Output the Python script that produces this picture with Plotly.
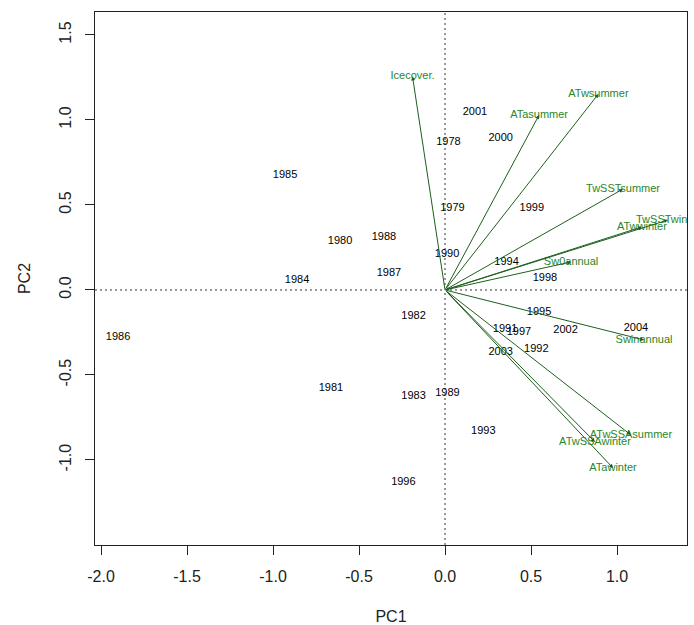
import plotly.graph_objects as go

# Scores (years)
years = ["2001", "1978", "2000", "1985", "1979", "1999", "1980", "1988", "1990",
         "1994", "1987", "1998", "1984", "1982", "1995", "1991", "1997", "2002",
         "2004", "2003", "1992", "1986", "1981", "1983", "1989", "1993", "1996"]
pc1 = [0.174, 0.020, 0.324, -0.930, 0.043, 0.505, -0.610, -0.355, 0.012,
       0.358, -0.326, 0.581, -0.860, -0.183, 0.547, 0.349, 0.430, 0.701,
       1.110, 0.324, 0.531, -1.901, -0.663, -0.183, 0.014, 0.223, -0.242]
pc2 = [1.045, 0.869, 0.892, 0.674, 0.480, 0.480, 0.286, 0.310, 0.208,
       0.161, 0.096, 0.067, 0.057, -0.155, -0.132, -0.232, -0.249, -0.239,
       -0.223, -0.367, -0.347, -0.279, -0.579, -0.626, -0.610, -0.832, -1.130]

# Loadings (variables)
variables = ["Icecover.", "ATwsummer", "ATasummer", "TwSSTsummer", "TwSSTwinter",
             "ATwwinter", "Sw0annual", "Swinannual", "ATwSSAsummer",
             "ATwSSAwinter", "ATawinter"]
load1 = [-0.189, 0.892, 0.547, 1.035, 1.297, 1.145, 0.733, 1.157, 1.081, 0.872, 0.977]
load2 = [1.256, 1.153, 1.029, 0.594, 0.412, 0.371, 0.165, -0.294, -0.853, -0.894, -1.047]

x_ticks = [-2.0, -1.5, -1.0, -0.5, 0.0, 0.5, 1.0]
y_ticks = [-1.0, -0.5, 0.0, 0.5, 1.0, 1.5]

FONT = "Liberation Sans, Arial, sans-serif"
LINE_GREEN = "#1d5f1d"
TEXT_GREEN = "#2a862a"

fig = go.Figure()

fig.add_trace(go.Scatter(
    x=pc1, y=pc2, mode="text", text=years,
    textposition="middle center",
    textfont=dict(family=FONT, size=11, color="#000000"),
    cliponaxis=True, hoverinfo="skip", showlegend=False))

fig.add_trace(go.Scatter(
    x=load1, y=load2, mode="text", text=variables,
    textposition="middle center",
    textfont=dict(family=FONT, size=11, color=TEXT_GREEN),
    cliponaxis=True, hoverinfo="skip", showlegend=False))

# zero reference lines
fig.add_shape(type="line", xref="x", yref="paper", x0=0, x1=0, y0=0, y1=1,
              line=dict(color="#333333", width=1, dash="2px,3px"), layer="below")
fig.add_shape(type="line", xref="paper", yref="y", x0=0, x1=1, y0=0, y1=0,
              line=dict(color="#333333", width=1, dash="2px,3px"), layer="below")

for vx, vy in zip(load1, load2):
    fig.add_annotation(x=vx, y=vy, ax=0, ay=0, xref="x", yref="y",
                       axref="x", ayref="y", text="", showarrow=True,
                       arrowhead=2, arrowsize=0.8, arrowwidth=1,
                       arrowcolor=LINE_GREEN)

fig.update_layout(
    width=694, height=625,
    margin=dict(l=95, r=7, t=12, b=80),
    plot_bgcolor="white", paper_bgcolor="white",
    font=dict(family=FONT, size=15, color="#222222"),
    showlegend=False,
)

fig.update_xaxes(
    range=[-2.035, 1.407], tickvals=x_ticks,
    ticktext=[f"{v:.1f}" for v in x_ticks],
    automargin=False,
    showgrid=False, zeroline=False,
    showline=True, linecolor="#222222", linewidth=1, mirror=True,
    ticks="outside", ticklen=9, tickcolor="#222222",
    ticklabelstandoff=8,
    tickfont=dict(family=FONT, size=16, color="#222222"),
    title=dict(text="PC1", font=dict(family=FONT, size=16, color="#222222"), standoff=28),
)
fig.update_yaxes(
    range=[-1.5, 1.635], tickvals=y_ticks,
    ticktext=[f"{v:.1f}" for v in y_ticks],
    tickangle=-90,
    automargin=False,
    showgrid=False, zeroline=False,
    showline=True, linecolor="#222222", linewidth=1, mirror=True,
    ticks="outside", ticklen=9, tickcolor="#222222",
    ticklabelstandoff=8,
    tickfont=dict(family=FONT, size=16, color="#222222"),
    title=dict(text="PC2", font=dict(family=FONT, size=16, color="#222222"), standoff=21),
)

fig.write_html("out.html")
